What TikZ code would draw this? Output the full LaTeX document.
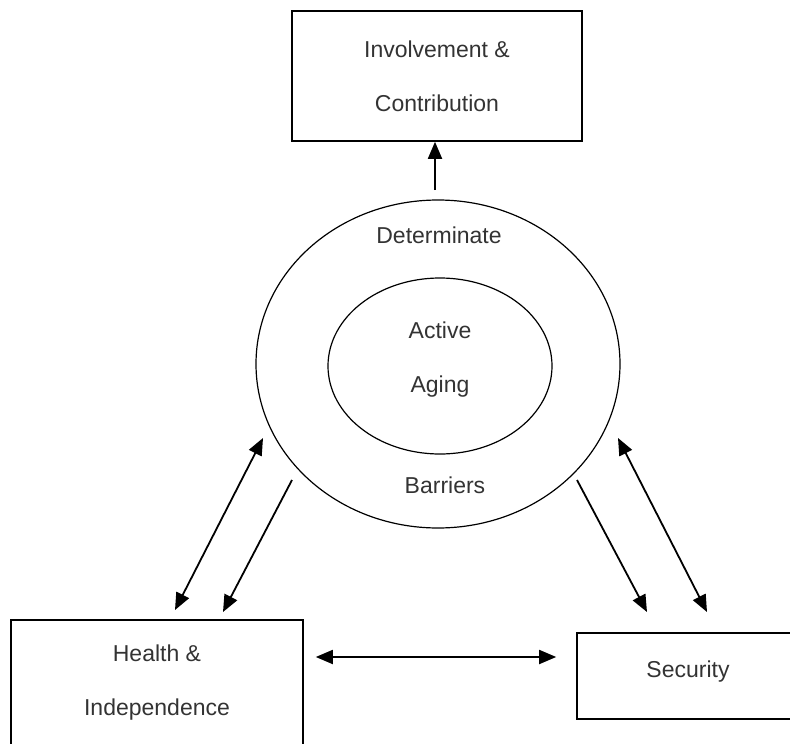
\documentclass[tikz,border=0pt]{standalone}
\usepackage{fontspec}
\setmainfont{Liberation Sans}
\usetikzlibrary{arrows.meta,shapes.geometric}
\begin{document}
\begin{tikzpicture}[x=1pt, y=-1pt, >={Triangle[length=17pt,width=14pt]},
    box/.style={draw, line width=1.6pt, inner sep=0pt},
    ring/.style={draw, ellipse, line width=1.2pt, inner sep=0pt},
    lbl/.style={text=black!80, font=\fontsize{23}{54}\selectfont, align=center},
    link/.style={line width=1.8pt}]
    \useasboundingbox (0, 0) rectangle (790, 744);

    \node[ring, minimum width=364pt, minimum height=328pt] (outer) at (438, 364) {};
    \node[ring, minimum width=224pt, minimum height=176pt] (inner) at (440, 366) {};
    \node[lbl] (det) at (439, 235) {Determinate};
    \node[lbl] (aging) at (440, 360) {Active\\Aging};
    \node[lbl] (barr) at (445, 485) {Barriers};

    \node[box, lbl, minimum width=290pt, minimum height=130pt] (contrib) at (437, 76) {Involvement \&\\Contribution};
    \node[box, lbl, minimum width=292pt, minimum height=126pt] (health) at (157, 683) {Health \&\\Independence};
    \node[box, minimum width=216pt, minimum height=86pt] (security) at (685, 676) {};
    \node[lbl] (sec) at (688, 672) {Security};

    \coordinate (up) at (435, 190);
    \draw[->, link] (up) -- (contrib.south -| up);

    \coordinate (hA) at (263, 438);
    \coordinate (hB) at (175, 610);
    \coordinate (hC) at (292, 480);
    \coordinate (hD) at (223, 612);
    \draw[<->, link] (hA) -- (hB);
    \draw[->, link] (hC) -- (hD);

    \coordinate (sA) at (618, 438);
    \coordinate (sB) at (707, 612);
    \coordinate (sC) at (577, 480);
    \coordinate (sD) at (647, 612);
    \draw[<->, link] (sA) -- (sB);
    \draw[->, link] (sC) -- (sD);

    \draw[<->, link] ([xshift=12pt]health.east |- 0, 657) -- ([xshift=-20pt]security.west |- 0, 657);
\end{tikzpicture}
\end{document}
